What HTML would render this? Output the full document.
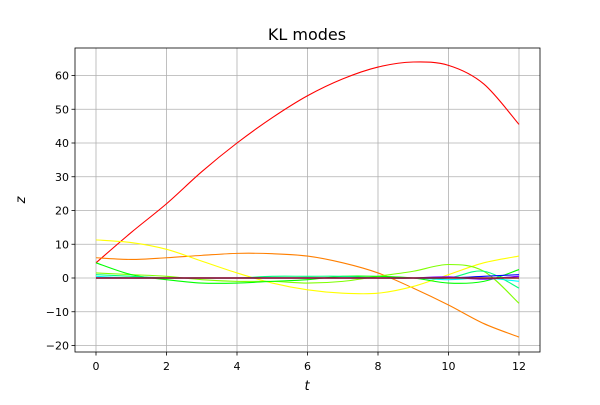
<!DOCTYPE html>
<html><head><meta charset="utf-8"><style>
body{margin:0;background:#fff}
svg{font-family:"DejaVu Sans","Liberation Sans",sans-serif}
</style></head><body>
<svg id="chart" width="600" height="400" xmlns="http://www.w3.org/2000/svg">
<rect width="600" height="400" fill="#fff"/>
<text x="307" y="40" text-anchor="middle" font-size="16">KL modes</text>
<g id="grid"></g><g id="series"></g><g id="axes"></g>
<text x="307" y="390" text-anchor="middle" font-size="13" font-style="italic">t</text>
<text x="25" y="200" text-anchor="middle" font-size="13" font-style="italic" transform="rotate(-90 25 200)">z</text>
</svg>
<script>
const tValues=[0,1,2,3,4,5,6,7,8,9,10,11,12];
const xTicks=[0,2,4,6,8,10,12];
const yTicks=[-20,-10,0,10,20,30,40,50,60];
const seriesColors=["#ff0000","#ff7f00","#ffff00","#7fff00","#00ff00","#00ff7f","#00ffff","#0000ff","#7f00ff","#8b2020"];
const mode1=[4.5,13.5,22,31.5,40,47.5,54,59,62.5,64,63,57.5,45.5];
const mode2=[6,5.5,6,6.7,7.3,7.2,6.5,4.5,1.5,-3,-8,-13.5,-17.5];
const mode3=[11.3,10.5,8.5,5,1.5,-1.5,-3.5,-4.5,-4.5,-2.5,1,4.5,6.5];
const mode4=[1.5,1,0.5,-0.5,-1,-1,-1.5,-1,0.5,2,4,2,-7.5];
const mode5=[4.5,1,-0.5,-1.5,-1.5,-1,-0.5,0.5,0.5,0,-1.5,-1,2.5];
const mode6=[1,0.5,0,0,0,0.5,0.5,0.5,0,0,0,2,-3];
const mode7=[0.5,0,0,0,0,0,0,0,0,0,-0.5,0,-1];
const mode8=[0,0,0,0,0,0,0,0,0,0,0,0.5,1];
const mode9=[0,0,0,0,0,0,0,0,0,0,0.3,-0.3,0.5];
const mode10=[0,0,0,0,0,0,0,0,0,0,0,0,0];
const modes=[mode1,mode2,mode3,mode4,mode5,mode6,mode7,mode8,mode9,mode10];
const L=75,R=540,T=48,B=352;
const xs=t=>96+t*(519-96)/12;
const ys=v=>278-v*3.375;
const NS="http://www.w3.org/2000/svg";
function mk(tag,attrs,parent){const e=document.createElementNS(NS,tag);for(const k in attrs)e.setAttribute(k,attrs[k]);parent.appendChild(e);return e;}
const grid=document.getElementById('grid'),axes=document.getElementById('axes'),ser=document.getElementById('series');
xTicks.forEach(t=>{const x=xs(t);
 const g=mk('line',{x1:x,x2:x,y1:T,y2:B,stroke:'#b0b0b0','stroke-width':0.8},grid);
 
 
 mk('line',{x1:x,x2:x,y1:B,y2:B+3.5,stroke:'#000','stroke-width':0.8},axes);
 const tx=mk('text',{x:x,y:B+18,'text-anchor':'middle','font-size':11},axes);tx.textContent=t;
 
 
});
yTicks.forEach(v=>{const y=ys(v);
 const g=mk('line',{x1:L,x2:R,y1:y,y2:y,stroke:'#b0b0b0','stroke-width':0.8},grid);
 
 
 mk('line',{x1:L-3.5,x2:L,y1:y,y2:y,stroke:'#000','stroke-width':0.8},axes);
 const tx=mk('text',{x:L-6,y:y+4,'text-anchor':'end','font-size':11},axes);tx.textContent=(v<0?'\u2212'+(-v):v);
 
 
});
const frame=mk('rect',{x:L,y:T,width:R-L,height:B-T,fill:'none',stroke:'#000','stroke-width':0.8},axes);


modes.forEach((m,i)=>{
 const p=m.map((v,j)=>[xs(tValues[j]),ys(v)]);
 let d='M'+p[0][0]+','+p[0][1];
 for(let j=0;j<p.length-1;j++){const p0=p[Math.max(j-1,0)],p1=p[j],p2=p[j+1],p3=p[Math.min(j+2,p.length-1)];
  d+=' C'+(p1[0]+(p2[0]-p0[0])/6)+','+(p1[1]+(p2[1]-p0[1])/6)+' '+(p2[0]-(p3[0]-p1[0])/6)+','+(p2[1]-(p3[1]-p1[1])/6)+' '+p2[0]+','+p2[1];}
 const path=mk('path',{d:d,fill:'none',stroke:seriesColors[i],'stroke-width':i>=8?1.5:1.1},ser);
 
 
});
</script>
</body></html>
